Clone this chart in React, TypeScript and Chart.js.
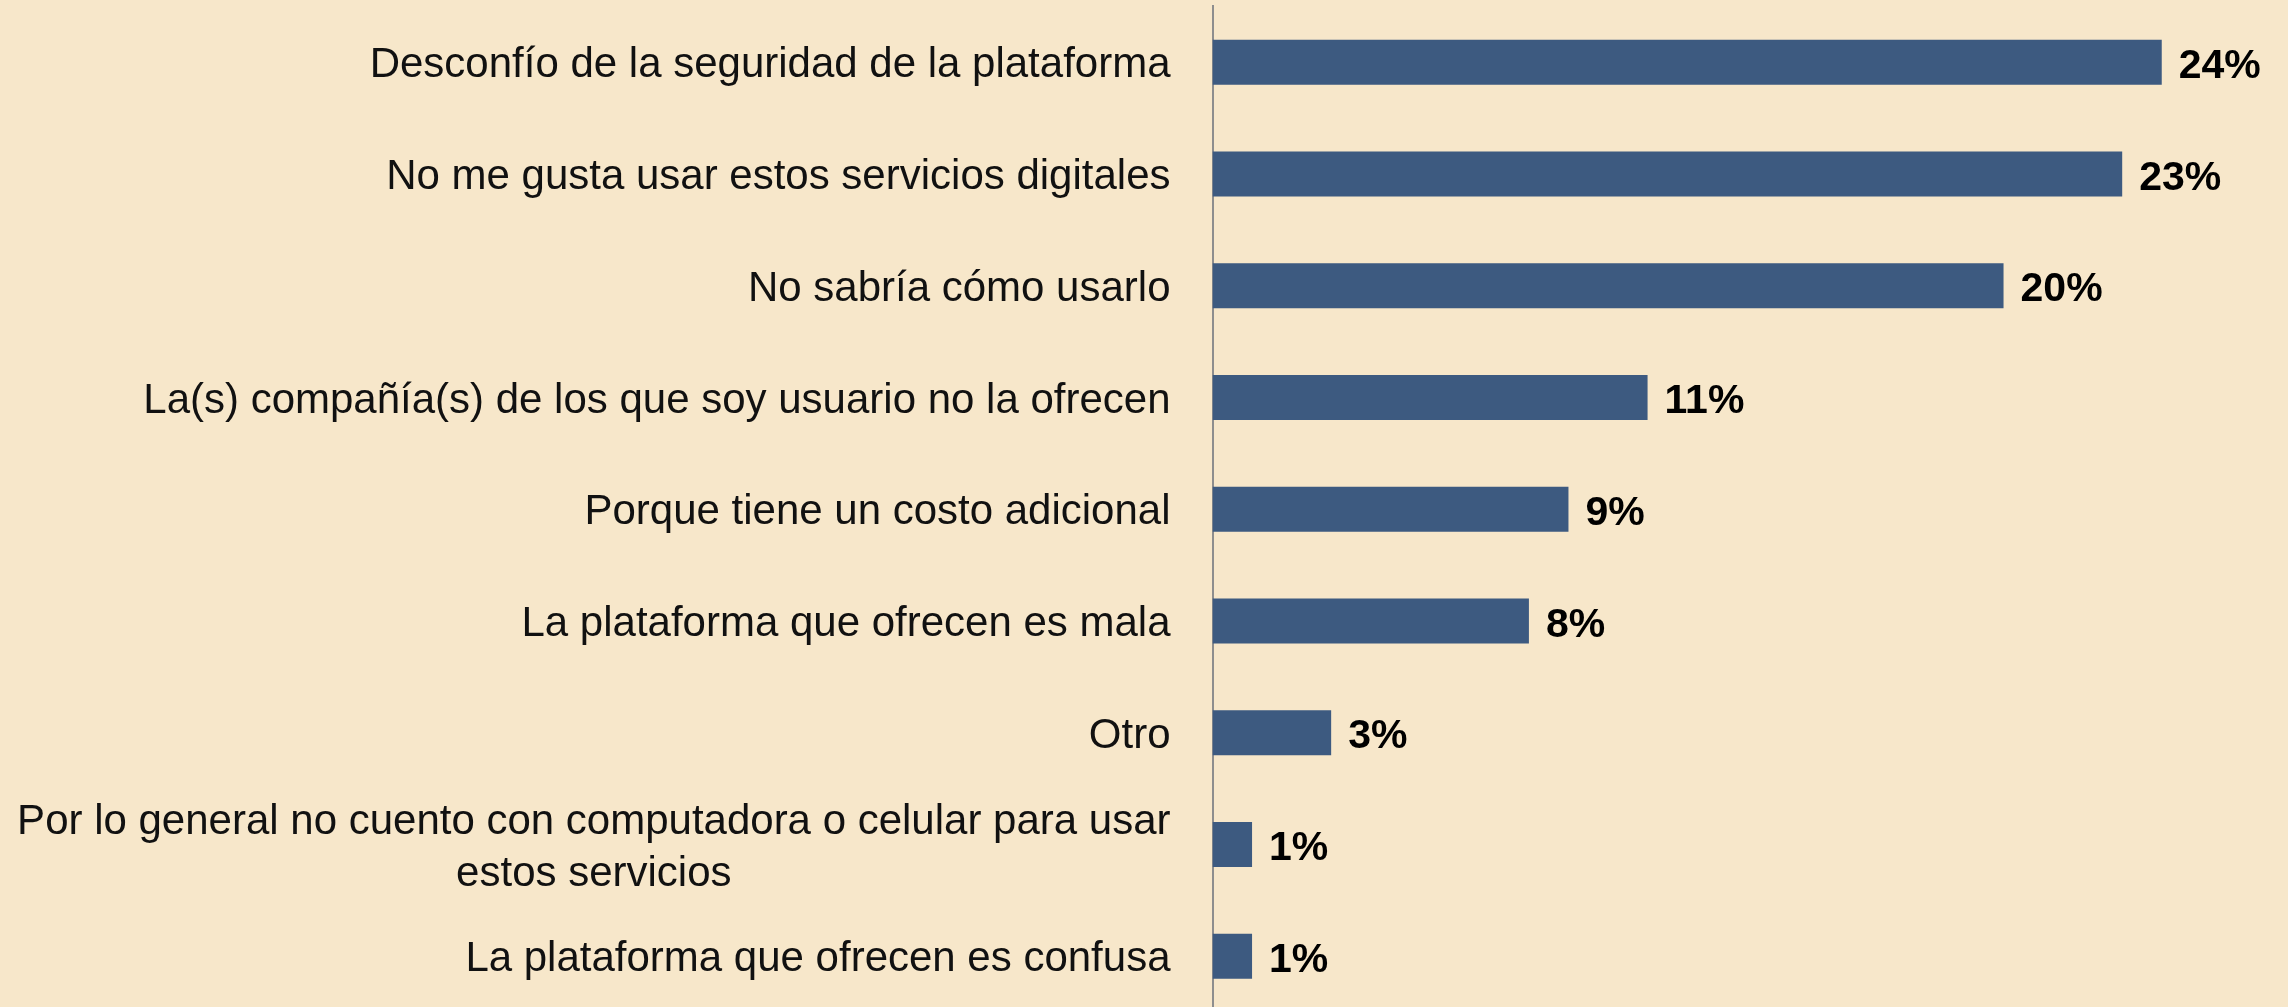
import React, { useEffect, useRef } from "react";
import { Chart, registerables } from "chart.js";

Chart.register(...registerables);

const categories: string[][] = [
  ["Desconfío de la seguridad de la plataforma"],
  ["No me gusta usar estos servicios digitales"],
  ["No sabría cómo usarlo"],
  ["La(s) compañía(s) de los que soy usuario no la ofrecen"],
  ["Porque tiene un costo adicional"],
  ["La plataforma que ofrecen es mala"],
  ["Otro"],
  ["Por lo general no cuento con computadora o celular para usar", "estos servicios"],
  ["La plataforma que ofrecen es confusa"],
];

const values: number[] = [24, 23, 20, 11, 9, 8, 3, 1, 1];

const BG = "#F7E7CA";
const BAR = "#3D5A80";
const LABEL_FONT = "42px 'Liberation Sans', Arial, sans-serif";
const VALUE_FONT = "bold 41px 'Liberation Sans', Arial, sans-serif";

const labelPlugin = {
  id: "customLabels",
  afterDraw(chart: any) {
    const ctx = chart.ctx;
    const yScale = chart.scales.y;
    const area = chart.chartArea;
    ctx.save();
    // category labels
    ctx.font = LABEL_FONT;
    ctx.fillStyle = "#111111";
    ctx.textBaseline = "alphabetic";
    const lineH = 52;
    categories.forEach((lines, i) => {
      const yc = yScale.getPixelForValue(i);
      const widths = lines.map((l) => ctx.measureText(l).width);
      const blockW = Math.max(...widths);
      const right = area.left - 42;
      const centerX = right - blockW / 2;
      ctx.textAlign = "center";
      lines.forEach((l, j) => {
        const y = yc + (j - (lines.length - 1) / 2) * lineH + 15;
        ctx.fillText(l, centerX, y);
      });
    });
    // value labels
    ctx.font = VALUE_FONT;
    ctx.fillStyle = "#000000";
    ctx.textAlign = "left";
    const meta = chart.getDatasetMeta(0);
    meta.data.forEach((bar: any, i: number) => {
      ctx.fillText(`${values[i]}%`, bar.x + 17, bar.y + 15.5);
    });
    ctx.restore();
  },
};

export default function App() {
  const canvasRef = useRef<HTMLCanvasElement | null>(null);

  useEffect(() => {
    document.body.style.margin = "0";
    const canvas = canvasRef.current;
    if (!canvas) return;
    const chart = new Chart(canvas, {
      type: "bar",
      data: {
        labels: categories.map((c) => c.join(" ")),
        datasets: [
          {
            data: values,
            backgroundColor: BAR,
            borderWidth: 0,
            barPercentage: 0.403,
            categoryPercentage: 1,
          },
        ],
      },
      options: {
        indexAxis: "y",
        animation: false,
        responsive: true,
        maintainAspectRatio: false,
        layout: {
          padding: { left: 1212.5, right: 7.6, top: 6.4, bottom: 0.8 },
        },
        plugins: {
          legend: { display: false },
          tooltip: { enabled: false },
        },
        scales: {
          x: {
            display: false,
            min: 0,
            max: 27,
          },
          y: {
            display: true,
            afterFit: (scale: any) => {
              scale.width = 0;
            },
            ticks: { display: false },
            grid: { display: false, drawTicks: false },
            border: { display: true, color: "#8E8E8E", width: 2 },
          },
        },
      },
      plugins: [labelPlugin],
    });
    return () => chart.destroy();
  }, []);

  return (
    <div
      style={{
        position: "fixed",
        left: 0,
        top: 0,
        width: 2288,
        height: 1007,
        overflow: "hidden",
        background: BG,
      }}
    >
      <div style={{ position: "relative", width: 2288, height: 1013 }}>
        <canvas ref={canvasRef} />
      </div>
    </div>
  );
}
